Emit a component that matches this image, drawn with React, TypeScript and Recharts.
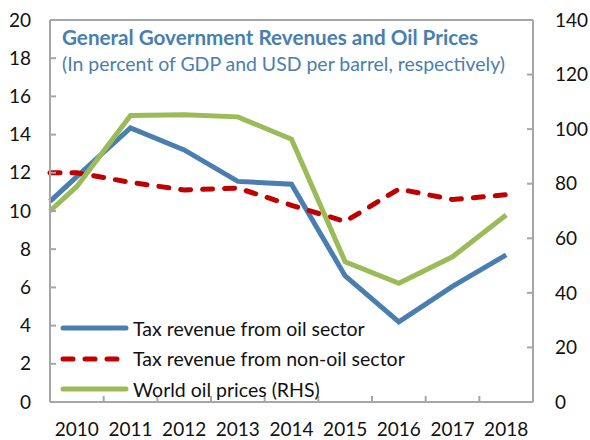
import React from 'react';
import {
  LineChart,
  Line,
  XAxis,
  YAxis,
  ReferenceLine,
  Legend,
  Customized,
} from 'recharts';

// values; 2009.5 is where the lines enter at the left edge
const years = [2009.5, 2010, 2011, 2012, 2013, 2014, 2015, 2016, 2017, 2018];
const oilTax = [10.5, 11.8, 14.35, 13.2, 11.55, 11.4, 6.6, 4.2, 6.05, 7.7];
const nonOilTax = [12.0, 12.0, 11.5, 11.1, 11.2, 10.3, 9.45, 11.15, 10.6, 10.85];
const oilPrice = [70, 79, 105, 105.3, 104.5, 96.3, 51.4, 43.5, 53.2, 68.5];

const xTicks = [2010, 2011, 2012, 2013, 2014, 2015, 2016, 2017, 2018];
const leftTicks = [0, 2, 4, 6, 8, 10, 12, 14, 16, 18, 20];
const rightTicks = [0, 20, 40, 60, 80, 100, 120, 140];

const title = 'General Government Revenues and Oil Prices';
const subtitle = '(In percent of GDP and USD per barrel, respectively)';

const seriesNames = {
  oil: 'Tax revenue from oil sector',
  nonOil: 'Tax revenue from non-oil sector',
  price: 'World oil prices (RHS)',
};

const chartData = years.map((year, i) => ({
  year,
  oil: oilTax[i],
  nonOil: nonOilTax[i],
  price: oilPrice[i],
}));

const FONT = 'Lato, "Open Sans", sans-serif';
const FRAME = '#a6a6a6';
const BLUE = '#4a7eb0';
const RED = '#c00000';
const GREEN = '#9bbb59';
const DASH = '10 12';

const WIDTH = 590;
const HEIGHT = 440;
const MARGIN = { top: 20, right: 0, bottom: 0, left: 0 };
const LEFT_W = 50;
const RIGHT_W = 57;
const X_H = 38;
const BAND = (WIDTH - LEFT_W - RIGHT_W) / xTicks.length;

const XTick = (props: any) => {
  const { x, y, payload } = props;
  return (
    <g>
      <text x={x} y={y + 34} textAnchor="middle" fontSize={19} fill="#111" fontFamily={FONT}>
        {payload.value}
      </text>
      {payload.value < 2018 && (
        <line x1={x + BAND / 2} x2={x + BAND / 2} y1={y} y2={y - 6} stroke={FRAME} strokeWidth={2} />
      )}
    </g>
  );
};

const LeftTick = (props: any) => {
  const { x, y, payload } = props;
  return (
    <g>
      <text x={x - 19} y={y} dy="0.35em" textAnchor="end" fontSize={19} fill="#111" fontFamily={FONT}>
        {payload.value}
      </text>
      <line x1={x} x2={x + 6} y1={y} y2={y} stroke={FRAME} strokeWidth={2} />
    </g>
  );
};

const RightTick = (props: any) => {
  const { x, y, payload } = props;
  return (
    <g>
      <text x={x + 22} y={y} dy="0.35em" textAnchor="start" fontSize={19} fill="#111" fontFamily={FONT}>
        {payload.value}
      </text>
      <line x1={x - 6} x2={x} y1={y} y2={y} stroke={FRAME} strokeWidth={2} />
    </g>
  );
};

const Titles = () => (
  <g fontFamily={FONT} fill={BLUE}>
    <text x={62} y={45} fontSize={20} fontWeight={700} textLength={416} lengthAdjust="spacingAndGlyphs">
      {title}
    </text>
    <text x={62} y={71} fontSize={19} textLength={443} lengthAdjust="spacingAndGlyphs">
      {subtitle}
    </text>
  </g>
);

const legendItems = [
  { key: 'oil', color: BLUE, dash: undefined },
  { key: 'nonOil', color: RED, dash: DASH },
  { key: 'price', color: GREEN, dash: undefined },
];

const LegendContent = () => (
  <div style={{ fontFamily: FONT, fontSize: 19.5, color: '#111', whiteSpace: 'nowrap' }}>
    {legendItems.map((item) => (
      <div key={item.key} style={{ display: 'flex', alignItems: 'center', height: 30.5 }}>
        <svg width={70} height={10} style={{ marginRight: 3, flexShrink: 0 }}>
          <line
            x1={3}
            x2={66}
            y1={5}
            y2={5}
            stroke={item.color}
            strokeWidth={5}
            strokeLinecap="round"
            strokeDasharray={item.dash}
          />
        </svg>
        <span>{seriesNames[item.key as keyof typeof seriesNames]}</span>
      </div>
    ))}
  </div>
);

export default function App() {
  return (
    <div style={{ position: 'absolute', left: 0, top: 0, width: WIDTH, height: HEIGHT, background: '#fff' }}>
      <LineChart width={WIDTH} height={HEIGHT} data={chartData} margin={MARGIN}>
        <XAxis
          dataKey="year"
          type="number"
          domain={[2009.5, 2018.5]}
          ticks={xTicks}
          height={X_H}
          tickSize={0}
          tickMargin={0}
          tick={<XTick />}
          axisLine={{ stroke: FRAME, strokeWidth: 2 }}
          tickLine={false}
          interval={0}
        />
        <YAxis
          yAxisId="left"
          orientation="left"
          domain={[0, 20]}
          ticks={leftTicks}
          width={LEFT_W}
          tickSize={0}
          tickMargin={0}
          tick={<LeftTick />}
          axisLine={{ stroke: FRAME, strokeWidth: 2 }}
          tickLine={false}
          interval={0}
        />
        <YAxis
          yAxisId="right"
          orientation="right"
          domain={[0, 140]}
          ticks={rightTicks}
          width={RIGHT_W}
          tickSize={0}
          tickMargin={0}
          tick={<RightTick />}
          axisLine={{ stroke: FRAME, strokeWidth: 2 }}
          tickLine={false}
          interval={0}
        />
        <ReferenceLine yAxisId="left" y={20} stroke={FRAME} strokeWidth={2} />
        <Line
          yAxisId="left"
          dataKey="oil"
          name={seriesNames.oil}
          type="linear"
          stroke={BLUE}
          strokeWidth={5}
          dot={false}
          isAnimationActive={false}
        />
        <Line
          yAxisId="left"
          dataKey="nonOil"
          name={seriesNames.nonOil}
          type="linear"
          stroke={RED}
          strokeWidth={5}
          strokeDasharray={DASH}
          strokeLinecap="round"
          dot={false}
          isAnimationActive={false}
        />
        <Line
          yAxisId="right"
          dataKey="price"
          name={seriesNames.price}
          type="linear"
          stroke={GREEN}
          strokeWidth={5}
          dot={false}
          isAnimationActive={false}
        />
        <Legend
          layout="vertical"
          align="center"
          verticalAlign="middle"
          content={<LegendContent />}
          wrapperStyle={{ position: 'absolute', left: 60, top: 313, width: 340, height: 92 }}
        />
        <Customized component={Titles} />
      </LineChart>
    </div>
  );
}
